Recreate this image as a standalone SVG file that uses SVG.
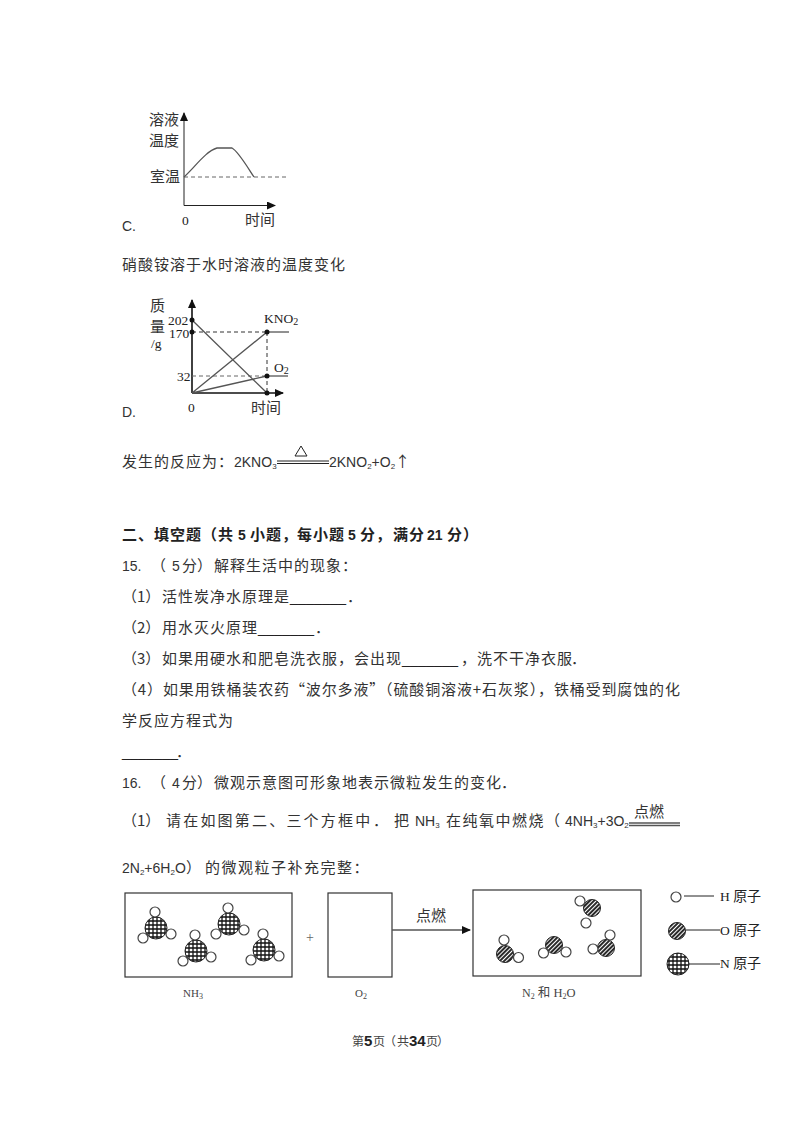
<svg xmlns="http://www.w3.org/2000/svg" width="800" height="1132" viewBox="0 0 800 1132">
<defs>
<style>
text{font-family:"Noto Sans CJK SC","Liberation Sans",sans-serif;font-size:15px;fill:#333}
.sp{letter-spacing:1px}
.sq{letter-spacing:1.500px}
.sr{letter-spacing:2.200px}
.lat{font-family:"Liberation Sans","Noto Sans CJK SC",sans-serif;font-size:14px}
.u{font-family:"Liberation Sans",sans-serif;font-size:14.400px;letter-spacing:0;fill:#222}
.hd{font-weight:700;fill:#222}
.hl{font-family:"Liberation Sans",sans-serif;font-weight:700;font-size:14px}
.s{font-family:"Liberation Serif","Noto Sans CJK SC",serif;font-size:13.500px;fill:#222}
.cap{font-family:"Liberation Serif","Noto Sans CJK SC",serif;font-size:11px;fill:#444}
.ft{font-size:12px;fill:#444}
.fb{font-family:"Liberation Sans",sans-serif;font-weight:700;font-size:15px;fill:#222}
.l{stroke:#222;stroke-width:1;fill:none}
.g{stroke:#555;stroke-width:1.300;fill:none}
.k{stroke:#111;stroke-width:1.600;fill:none}
.d{stroke:#333;stroke-width:1;stroke-dasharray:4 3;fill:none}
.dg{stroke:#666;stroke-width:1;stroke-dasharray:4 3;fill:none}
.box{stroke:#333;stroke-width:1.200;fill:#fff}
.h{fill:#fff;stroke:#444;stroke-width:1.200}
.n{fill:url(#grid);stroke:#222;stroke-width:1}
.o{fill:url(#hatch);stroke:#222;stroke-width:1}
</style>
<pattern id="grid" width="4" height="4" patternUnits="userSpaceOnUse"><rect width="4" height="4" fill="#fff"/><path d="M0 1H4M1 0V4" stroke="#111" stroke-width="1.300"/></pattern>
<pattern id="hatch" width="3" height="3" patternUnits="userSpaceOnUse" patternTransform="rotate(-45)"><rect width="3" height="3" fill="#fff"/><path d="M0 1H3" stroke="#111" stroke-width="1.800"/></pattern>
<marker id="ah" markerWidth="9" markerHeight="8" refX="8" refY="4" orient="auto" markerUnits="userSpaceOnUse"><path d="M0 0L9 4L0 8Z" fill="#111"/></marker>
<symbol id="nh3" overflow="visible">
<circle class="n" cx="0" cy="0" r="11"/><circle class="h" cx="-1" cy="-16" r="5"/><circle class="h" cx="-13" cy="10" r="5"/><circle class="h" cx="15" cy="6" r="5"/>
</symbol>
</defs>
<rect width="800" height="1132" fill="#fff"/>

<g id="chart-c">
<path class="l" d="M184 205.500V113" marker-end="url(#ah)"/>
<path class="l" d="M184 205.500H275" marker-end="url(#ah)"/>
<path class="dg" d="M184 177H288"/>
<path class="g" d="M184 177C195 167 206 151 217 148H232C238 151 248 168 254 177"/>
<text x="149" y="125">溶液</text>
<text x="149" y="146">温度</text>
<text x="150" y="182">室温</text>
<text class="s" x="182" y="225">0</text>
<text x="245" y="225">时间</text>
<text class="lat" x="122" y="231">C.</text>
</g>

<text class="sp" x="122" y="270">硝酸铵溶于水时溶液的温度变化</text>

<g id="chart-d">
<path class="k" d="M192 393V300" marker-end="url(#ah)"/>
<path class="k" d="M192 393H283" marker-end="url(#ah)"/>
<path class="d" d="M192 332H267M267 332V393"/>
<path class="dg" d="M192 376H267"/>
<path class="g" d="M192 320L267 393M192 393L267 332M192 393L267 376"/>
<path class="l" d="M267 332H289M267 376H288"/>
<g fill="#111"><circle cx="192" cy="320" r="2.500"/><circle cx="192" cy="332" r="2.500"/><circle cx="267" cy="332" r="2.500"/><circle cx="267" cy="376" r="2.500"/><circle cx="267" cy="393" r="2.500"/></g>
<text x="150" y="311">质</text>
<text x="150" y="332">量</text>
<text class="s" x="151" y="348">/g</text>
<text class="s" x="168" y="325">202</text>
<text class="s" x="169" y="338">170</text>
<text class="s" x="177" y="381">32</text>
<text class="s" x="188" y="412">0</text>
<text class="s" x="264" y="323">KNO<tspan font-size="10" dy="2">2</tspan></text>
<text class="s" x="274" y="372">O<tspan font-size="10" dy="2">2</tspan></text>
<text x="251" y="413">时间</text>
<text class="lat" x="122" y="417">D.</text>
</g>

<g id="equation-1">
<text class="sp" x="122" y="467">发生的反应为：</text>
<text class="lat" x="234" y="467">2KNO<tspan font-size="8" dy="2">3</tspan></text>
<path class="l" d="M277 461H329M277 463.500H329"/>
<path class="l" d="M295 456L301 446L307 456Z"/>
<text class="lat" x="329" y="467">2KNO<tspan font-size="8" dy="2">2</tspan><tspan dy="-2">+O</tspan><tspan font-size="8" dy="2">2</tspan></text>
<text x="395" y="467">↑</text>
</g>

<text class="hd" y="540"><tspan class="sp" x="122">二、填空题（共</tspan><tspan class="hl" x="238">5</tspan><tspan class="sp" x="250">小题，</tspan><tspan class="sp" x="297">每小题</tspan><tspan class="hl" x="348">5</tspan><tspan class="sp" x="360">分，</tspan><tspan class="sp" x="393">满分</tspan><tspan class="hl" x="427">21</tspan><tspan class="sp" x="447">分）</tspan></text>
<text y="571"><tspan font-family="Liberation Sans" font-size="14" x="122">15.</tspan><tspan x="151">（</tspan><tspan font-family="Liberation Sans" font-size="14" x="172">5</tspan><tspan x="182">分）</tspan><tspan class="sp" x="214">解释生活中的现象：</tspan></text>
<text y="602"><tspan x="122">（1）</tspan><tspan class="sp" x="162">活性炭净水原理是</tspan><tspan class="u" x="290">_______</tspan><tspan x="347">．</tspan></text>
<text y="633"><tspan x="122">（2）</tspan><tspan class="sp" x="162">用水灭火原理</tspan><tspan class="u" x="258">_______</tspan><tspan x="315">．</tspan></text>
<text y="664"><tspan x="122">（3）</tspan><tspan class="sp" x="162">如果用硬水和肥皂洗衣服，会出现</tspan><tspan class="u" x="402">_______</tspan><tspan class="sp" x="461">，洗不干净衣服</tspan><tspan x="571">．</tspan></text>
<text x="122" y="695" textLength="558">（4）如果用铁桶装农药“波尔多液”（硫酸铜溶液+石灰浆），铁桶受到腐蚀的化</text>
<text class="sp" x="122" y="726">学反应方程式为</text>
<text y="757"><tspan class="u" x="122">_______</tspan><tspan x="176">．</tspan></text>
<text y="788"><tspan font-family="Liberation Sans" font-size="14" x="122">16.</tspan><tspan x="151">（</tspan><tspan font-family="Liberation Sans" font-size="14" x="172">4</tspan><tspan x="182">分）</tspan><tspan class="sp" x="214">微观示意图可形象地表示微粒发生的变化</tspan><tspan x="501">．</tspan></text>

<g id="equation-2">
<text y="826"><tspan x="122">（1）</tspan><tspan class="sr" x="166">请在如图第二、三个方框中</tspan><tspan x="373">．</tspan><tspan x="394">把</tspan><tspan font-family="Liberation Sans" font-size="14" x="415">NH</tspan><tspan font-family="Liberation Sans" font-size="8" dy="2">3</tspan><tspan class="sq" x="446" dy="-2">在纯氧中燃烧（</tspan></text>
<text class="lat" x="565" y="826">4NH<tspan font-size="8" dy="2">3</tspan><tspan dy="-2">+3O</tspan><tspan font-size="8" dy="2">2</tspan></text>
<path class="g" d="M629 823H680M629 825.500H680"/>
<text x="634" y="817">点燃</text>
<text class="lat" x="122" y="873">2N<tspan font-size="8" dy="2">2</tspan><tspan dy="-2">+6H</tspan><tspan font-size="8" dy="2">2</tspan><tspan dy="-2">O</tspan></text>
<text y="873"><tspan x="186">）</tspan><tspan class="sq" x="205">的微观粒子补充完整：</tspan></text>
</g>

<g id="box-nh3">
<rect class="box" x="125" y="893" width="167" height="84"/>
<use href="#nh3" x="156" y="928"/>
<use href="#nh3" x="196" y="951"/>
<use href="#nh3" x="229" y="924"/>
<use href="#nh3" x="264" y="950"/>
<text class="cap" x="183" y="997">NH<tspan font-size="8" dy="2">3</tspan></text>
</g>
<text id="plus" class="cap" x="306" y="942" style="font-size:14px;fill:#666">+</text>
<g id="box-o2">
<rect class="box" x="328" y="893" width="64" height="84"/>
<text class="cap" x="355" y="997">O<tspan font-size="8" dy="2">2</tspan></text>
</g>
<g id="connectors">
<path class="g" d="M392 930H470" marker-end="url(#ah)"/>
<path class="l" d="M684 896H714M686 930H720M689 964H720"/>
</g>
<text id="arrow-label" x="416" y="921">点燃</text>
<g id="box-products">
<rect class="box" x="473" y="890" width="168" height="86"/>
<circle class="o" cx="505" cy="954" r="8.500"/><circle class="h" cx="504" cy="940" r="5"/><circle class="h" cx="518.500" cy="957.500" r="5"/>
<circle class="o" cx="554" cy="945" r="8.500"/><circle class="h" cx="543.500" cy="953" r="5"/><circle class="h" cx="566" cy="952" r="5"/>
<circle class="o" cx="592" cy="908" r="8.500"/><circle class="h" cx="580" cy="901" r="5"/><circle class="h" cx="586" cy="923" r="5"/>
<circle class="o" cx="606" cy="948" r="8.500"/><circle class="h" cx="610" cy="935" r="5"/><circle class="h" cx="593" cy="949" r="5"/>
<text class="cap" x="522" y="997" style="font-size:12px">N<tspan font-size="8" dy="2">2</tspan><tspan dy="-2" font-size="12.500"> 和 H</tspan><tspan font-size="8" dy="2">2</tspan><tspan dy="-2" font-size="12.500">O</tspan></text>
</g>
<g id="legend-h"><circle class="h" cx="676" cy="897" r="5"/><text class="s" x="720" y="901">H <tspan font-size="14">原子</tspan></text></g>
<g id="legend-o"><circle class="o" cx="677" cy="931" r="8.500"/><text class="s" x="720" y="935">O <tspan font-size="14">原子</tspan></text></g>
<g id="legend-n"><circle class="n" cx="678" cy="964" r="11"/><text class="s" x="720" y="968">N <tspan font-size="14">原子</tspan></text></g>

<text id="footer" class="ft" y="1046"><tspan x="352">第</tspan><tspan class="fb" x="364">5</tspan><tspan x="373">页</tspan><tspan x="384">（</tspan><tspan x="397">共</tspan><tspan class="fb" x="409">34</tspan><tspan x="426">页</tspan><tspan x="437">）</tspan></text>
</svg>
